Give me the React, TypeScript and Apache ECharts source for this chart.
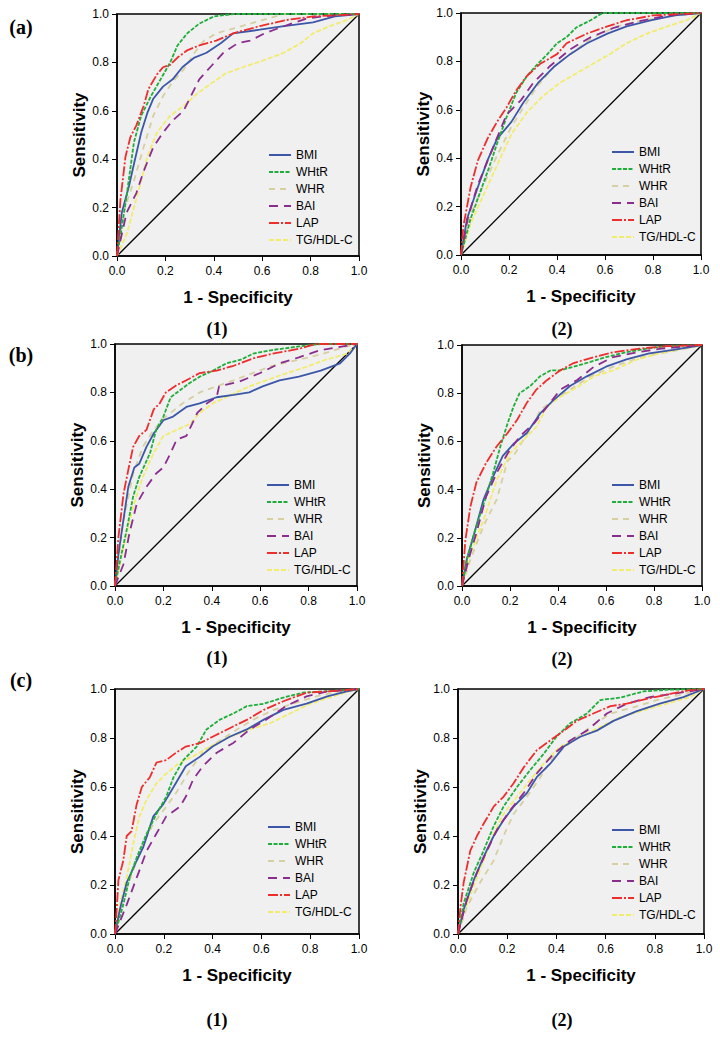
import React, { useEffect, useRef } from "react";
import * as echarts from "echarts";

// ---------- DATA ----------
const CATEGORIES = ["BMI", "WHtR", "WHR", "BAI", "LAP", "TG/HDL-C"];
const TICKS = [0, 0.2, 0.4, 0.6, 0.8, 1.0];
const PANEL_LETTERS = ["(a)", "(b)", "(c)"];
const PANEL_NUMBERS = ["1", "2"];
const X_NAME = "1 - Specificity";
const Y_NAME = "Sensitivity";
const DIAGONAL = [[0, 0], [1, 1]];

// panel (a)(1)
const a1_BMI = [[0,0],[0.02,0.18],[0.05,0.29],[0.07,0.38],[0.1,0.51],[0.125,0.59],[0.15,0.65],[0.19,0.70],[0.23,0.73],[0.27,0.78],[0.32,0.82],[0.37,0.84],[0.43,0.88],[0.48,0.92],[0.59,0.935],[0.69,0.95],[0.81,0.965],[0.9,0.99],[1,1]];
const a1_WHtR = [[0,0],[0.02,0.12],[0.04,0.25],[0.07,0.47],[0.1,0.58],[0.14,0.66],[0.18,0.73],[0.22,0.80],[0.25,0.87],[0.29,0.92],[0.34,0.96],[0.40,0.99],[0.48,1],[1,1]];
const a1_WHR = [[0,0],[0.03,0.19],[0.07,0.31],[0.11,0.45],[0.15,0.58],[0.19,0.66],[0.23,0.72],[0.275,0.77],[0.32,0.84],[0.36,0.89],[0.41,0.92],[0.48,0.94],[0.55,0.96],[0.62,0.98],[0.69,1],[1,1]];
const a1_BAI = [[0,0],[0.04,0.18],[0.08,0.26],[0.11,0.35],[0.15,0.45],[0.19,0.51],[0.23,0.56],[0.275,0.60],[0.31,0.67],[0.34,0.73],[0.385,0.78],[0.44,0.84],[0.50,0.88],[0.55,0.89],[0.61,0.92],[0.65,0.935],[0.72,0.96],[0.78,0.98],[0.85,0.99],[1,1]];
const a1_LAP = [[0,0],[0.014,0.23],[0.035,0.41],[0.055,0.49],[0.08,0.54],[0.11,0.62],[0.13,0.69],[0.165,0.75],[0.19,0.78],[0.22,0.79],[0.25,0.82],[0.29,0.85],[0.34,0.87],[0.41,0.89],[0.48,0.92],[0.59,0.95],[0.70,0.975],[0.81,0.99],[1,1]];
const a1_TG = [[0,0],[0.04,0.09],[0.07,0.20],[0.1,0.31],[0.125,0.41],[0.165,0.51],[0.22,0.58],[0.275,0.62],[0.33,0.67],[0.385,0.71],[0.45,0.755],[0.52,0.78],[0.61,0.81],[0.69,0.84],[0.76,0.88],[0.81,0.92],[0.88,0.95],[0.95,0.975],[1,1]];

// panel (a)(2)
const a2_BMI = [[0,0],[0.025,0.15],[0.07,0.28],[0.11,0.39],[0.15,0.48],[0.21,0.55],[0.26,0.63],[0.32,0.71],[0.39,0.78],[0.455,0.83],[0.525,0.875],[0.61,0.915],[0.69,0.945],[0.79,0.97],[0.89,0.99],[1,1]];
const a2_WHtR = [[0,0],[0.04,0.15],[0.08,0.26],[0.12,0.37],[0.15,0.46],[0.19,0.57],[0.23,0.67],[0.275,0.74],[0.32,0.79],[0.36,0.83],[0.40,0.875],[0.44,0.90],[0.48,0.94],[0.54,0.97],[0.59,1],[1,1]];
const a2_WHR = [[0,0],[0.04,0.17],[0.09,0.28],[0.15,0.41],[0.21,0.53],[0.26,0.61],[0.32,0.70],[0.39,0.78],[0.455,0.83],[0.55,0.90],[0.65,0.945],[0.76,0.97],[0.90,0.99],[1,1]];
const a2_BAI = [[0,0],[0.03,0.16],[0.07,0.29],[0.14,0.46],[0.19,0.58],[0.25,0.64],[0.30,0.71],[0.37,0.78],[0.455,0.85],[0.54,0.90],[0.64,0.94],[0.76,0.97],[0.86,0.99],[1,1]];
const a2_LAP = [[0,0],[0.01,0.12],[0.04,0.28],[0.07,0.39],[0.11,0.48],[0.15,0.55],[0.19,0.61],[0.23,0.68],[0.275,0.74],[0.33,0.79],[0.40,0.83],[0.44,0.875],[0.525,0.915],[0.61,0.945],[0.69,0.97],[0.80,0.99],[1,1]];
const a2_TG = [[0,0],[0.04,0.13],[0.09,0.24],[0.15,0.37],[0.21,0.50],[0.275,0.59],[0.34,0.655],[0.41,0.71],[0.48,0.75],[0.55,0.79],[0.62,0.83],[0.69,0.875],[0.775,0.915],[0.86,0.945],[0.94,0.97],[1,1]];

// panel (b)(1)
const b1_BMI = [[0,0],[0.014,0.13],[0.03,0.24],[0.055,0.41],[0.08,0.49],[0.10,0.505],[0.13,0.575],[0.16,0.63],[0.20,0.685],[0.24,0.70],[0.295,0.74],[0.35,0.755],[0.42,0.78],[0.49,0.79],[0.555,0.80],[0.61,0.825],[0.68,0.85],[0.76,0.865],[0.85,0.89],[0.93,0.92],[0.97,0.96],[1,1]];
const b1_WHtR = [[0,0],[0.02,0.10],[0.05,0.24],[0.075,0.37],[0.10,0.45],[0.145,0.55],[0.17,0.645],[0.20,0.70],[0.23,0.78],[0.27,0.81],[0.31,0.84],[0.35,0.865],[0.405,0.89],[0.46,0.92],[0.52,0.935],[0.57,0.96],[0.65,0.975],[0.76,0.99],[0.85,1],[1,1]];
const b1_WHR = [[0,0],[0.035,0.27],[0.075,0.465],[0.115,0.575],[0.16,0.645],[0.21,0.70],[0.28,0.755],[0.35,0.80],[0.42,0.825],[0.49,0.85],[0.57,0.88],[0.65,0.91],[0.76,0.935],[0.86,0.96],[0.94,0.985],[1,1]];
const b1_BAI = [[0,0],[0.035,0.09],[0.06,0.22],[0.09,0.34],[0.13,0.41],[0.17,0.465],[0.20,0.49],[0.23,0.55],[0.255,0.605],[0.295,0.62],[0.34,0.715],[0.38,0.755],[0.42,0.78],[0.43,0.825],[0.515,0.845],[0.60,0.88],[0.68,0.92],[0.76,0.945],[0.85,0.975],[1,1]];
const b1_LAP = [[0,0],[0.014,0.20],[0.035,0.38],[0.055,0.48],[0.075,0.575],[0.10,0.62],[0.13,0.645],[0.16,0.73],[0.185,0.755],[0.21,0.80],[0.255,0.83],[0.295,0.85],[0.35,0.88],[0.42,0.89],[0.49,0.91],[0.57,0.94],[0.65,0.96],[0.76,0.98],[0.83,1],[1,1]];
const b1_TG = [[0,0],[0.035,0.16],[0.075,0.33],[0.115,0.45],[0.16,0.55],[0.20,0.62],[0.255,0.645],[0.31,0.67],[0.35,0.715],[0.405,0.755],[0.49,0.795],[0.555,0.825],[0.625,0.85],[0.71,0.88],[0.79,0.905],[0.87,0.935],[0.96,0.96],[1,1]];

// panel (b)(2)
const b2_BMI = [[0,0],[0.02,0.11],[0.06,0.25],[0.09,0.36],[0.13,0.455],[0.17,0.54],[0.215,0.59],[0.27,0.635],[0.325,0.715],[0.38,0.77],[0.45,0.83],[0.52,0.87],[0.60,0.91],[0.685,0.94],[0.78,0.965],[0.88,0.98],[1,1]];
const b2_WHtR = [[0,0],[0.02,0.11],[0.06,0.25],[0.10,0.37],[0.13,0.47],[0.16,0.58],[0.19,0.675],[0.215,0.745],[0.24,0.80],[0.285,0.83],[0.325,0.87],[0.37,0.895],[0.41,0.895],[0.465,0.91],[0.535,0.93],[0.60,0.95],[0.685,0.97],[0.77,0.985],[0.85,0.995],[1,1]];
const b2_WHR = [[0,0],[0.035,0.11],[0.09,0.25],[0.145,0.36],[0.19,0.52],[0.215,0.54],[0.255,0.605],[0.30,0.675],[0.325,0.73],[0.38,0.77],[0.45,0.815],[0.535,0.87],[0.63,0.91],[0.73,0.945],[0.82,0.965],[0.91,0.98],[1,1]];
const b2_BAI = [[0,0],[0.03,0.12],[0.06,0.22],[0.10,0.37],[0.145,0.47],[0.19,0.55],[0.24,0.62],[0.30,0.675],[0.355,0.745],[0.41,0.815],[0.48,0.855],[0.55,0.91],[0.63,0.95],[0.73,0.97],[0.83,0.985],[1,1]];
const b2_LAP = [[0,0],[0.014,0.19],[0.035,0.33],[0.06,0.43],[0.10,0.51],[0.145,0.58],[0.19,0.635],[0.23,0.69],[0.27,0.76],[0.31,0.815],[0.355,0.855],[0.41,0.895],[0.465,0.925],[0.55,0.95],[0.63,0.97],[0.74,0.985],[0.85,0.995],[1,1]];
const b2_TG = [[0,0],[0.035,0.135],[0.09,0.275],[0.145,0.44],[0.20,0.55],[0.255,0.605],[0.31,0.66],[0.355,0.745],[0.41,0.785],[0.48,0.825],[0.55,0.87],[0.63,0.895],[0.73,0.94],[0.82,0.965],[0.92,0.985],[1,1]];

// panel (c)(1)
const c1_BMI = [[0,0],[0.02,0.10],[0.048,0.21],[0.089,0.30],[0.116,0.355],[0.157,0.48],[0.198,0.53],[0.24,0.60],[0.29,0.685],[0.35,0.725],[0.40,0.765],[0.47,0.805],[0.54,0.835],[0.61,0.875],[0.69,0.915],[0.785,0.94],[0.87,0.97],[0.95,0.99],[1,1]];
const c1_WHtR = [[0,0],[0.034,0.12],[0.06,0.23],[0.09,0.315],[0.13,0.41],[0.17,0.49],[0.21,0.56],[0.24,0.64],[0.28,0.71],[0.335,0.765],[0.375,0.835],[0.43,0.875],[0.485,0.90],[0.54,0.93],[0.61,0.94],[0.69,0.965],[0.77,0.985],[0.855,0.99],[1,1]];
const c1_WHR = [[0,0],[0.034,0.15],[0.075,0.26],[0.116,0.37],[0.157,0.45],[0.21,0.52],[0.25,0.575],[0.307,0.67],[0.36,0.74],[0.43,0.79],[0.50,0.835],[0.567,0.875],[0.65,0.915],[0.73,0.94],[0.826,0.97],[0.92,0.99],[1,1]];
const c1_BAI = [[0,0],[0.048,0.12],[0.089,0.23],[0.13,0.34],[0.17,0.41],[0.21,0.48],[0.266,0.52],[0.29,0.56],[0.32,0.63],[0.36,0.685],[0.417,0.74],[0.485,0.78],[0.553,0.835],[0.62,0.875],[0.70,0.93],[0.785,0.97],[0.87,0.99],[1,1]];
const c1_LAP = [[0,0],[0.007,0.10],[0.014,0.22],[0.034,0.30],[0.048,0.40],[0.068,0.42],[0.089,0.53],[0.11,0.60],[0.143,0.64],[0.17,0.70],[0.21,0.71],[0.25,0.74],[0.29,0.765],[0.35,0.78],[0.40,0.805],[0.47,0.84],[0.54,0.874],[0.61,0.915],[0.69,0.95],[0.785,0.985],[0.87,0.99],[1,1]];
const c1_TG = [[0,0],[0.02,0.12],[0.048,0.23],[0.075,0.37],[0.10,0.48],[0.13,0.55],[0.17,0.615],[0.21,0.655],[0.266,0.70],[0.32,0.725],[0.39,0.765],[0.47,0.805],[0.553,0.835],[0.635,0.86],[0.717,0.90],[0.80,0.94],[0.895,0.97],[0.96,0.99],[1,1]];

// panel (c)(2)
const c2_BMI = [[0,0],[0.023,0.10],[0.064,0.22],[0.104,0.315],[0.145,0.40],[0.185,0.465],[0.226,0.52],[0.28,0.575],[0.32,0.64],[0.375,0.695],[0.43,0.765],[0.497,0.805],[0.564,0.83],[0.632,0.87],[0.727,0.91],[0.82,0.94],[0.916,0.967],[1,1]];
const c2_WHtR = [[0,0],[0.023,0.125],[0.064,0.25],[0.104,0.34],[0.145,0.44],[0.185,0.52],[0.24,0.60],[0.294,0.67],[0.348,0.735],[0.40,0.805],[0.456,0.86],[0.524,0.90],[0.578,0.955],[0.66,0.965],[0.754,0.99],[0.848,0.997],[1,1]];
const c2_WHR = [[0,0],[0.036,0.11],[0.09,0.21],[0.145,0.30],[0.185,0.40],[0.226,0.49],[0.28,0.56],[0.335,0.64],[0.388,0.725],[0.456,0.78],[0.537,0.845],[0.62,0.90],[0.713,0.925],[0.808,0.955],[0.90,0.975],[1,1]];
const c2_BAI = [[0,0],[0.036,0.14],[0.077,0.25],[0.118,0.34],[0.158,0.425],[0.212,0.505],[0.267,0.575],[0.32,0.655],[0.388,0.735],[0.456,0.79],[0.524,0.83],[0.605,0.90],[0.686,0.94],[0.78,0.967],[0.875,0.98],[1,1]];
const c2_LAP = [[0,0],[0.01,0.11],[0.023,0.21],[0.05,0.34],[0.077,0.40],[0.104,0.45],[0.145,0.52],[0.185,0.56],[0.226,0.615],[0.267,0.68],[0.32,0.75],[0.375,0.79],[0.43,0.83],[0.483,0.87],[0.55,0.90],[0.62,0.93],[0.686,0.94],[0.767,0.96],[0.862,0.98],[0.943,0.995],[1,1]];
const c2_TG = [[0,0],[0.023,0.085],[0.064,0.195],[0.104,0.30],[0.145,0.41],[0.185,0.49],[0.24,0.56],[0.294,0.63],[0.36,0.71],[0.415,0.765],[0.497,0.805],[0.578,0.845],[0.66,0.885],[0.754,0.913],[0.848,0.94],[0.943,0.967],[1,1]];

const PANEL_DATA = [
  [a1_BMI, a1_WHtR, a1_WHR, a1_BAI, a1_LAP, a1_TG],
  [a2_BMI, a2_WHtR, a2_WHR, a2_BAI, a2_LAP, a2_TG],
  [b1_BMI, b1_WHtR, b1_WHR, b1_BAI, b1_LAP, b1_TG],
  [b2_BMI, b2_WHtR, b2_WHR, b2_BAI, b2_LAP, b2_TG],
  [c1_BMI, c1_WHtR, c1_WHR, c1_BAI, c1_LAP, c1_TG],
  [c2_BMI, c2_WHtR, c2_WHR, c2_BAI, c2_LAP, c2_TG],
];

// ---------- LAYOUT / STYLE ----------
const W = 720;
const H = 1037;
const GRIDS = [
  { left: 117, top: 14, width: 242, height: 242 },
  { left: 461, top: 13, width: 240, height: 242 },
  { left: 115, top: 344, width: 242, height: 242 },
  { left: 462, top: 345, width: 240, height: 241 },
  { left: 115, top: 689, width: 244, height: 245 },
  { left: 458, top: 689, width: 246, height: 245 },
];
const LEGEND_POS = [
  { left: 268, top: 149 },
  { left: 611, top: 146 },
  { left: 266, top: 479 },
  { left: 611, top: 479 },
  { left: 267, top: 821 },
  { left: 611, top: 824 },
];
const LETTER_POS = [
  { x: 21, y: 27 },
  { x: 21, y: 355 },
  { x: 21, y: 680 },
];
const NUMBER_POS = [
  { x: 217, y: 329 }, { x: 562, y: 329 },
  { x: 217, y: 658 }, { x: 562, y: 659 },
  { x: 217, y: 1020 }, { x: 562, y: 1020 },
];
const COLORS = ["#3c57a8", "#1fae3a", "#d6cfa0", "#8b2c8f", "#ee2d2d", "#f2ec6c"];
const DASHES: any[] = ["solid", [4, 1.5], [6, 5], [9, 6], [10, 2, 2, 2], [5, 2]];
const SANS = "'Liberation Sans', Arial, Helvetica, sans-serif";
const SERIF = "'Liberation Serif', 'Times New Roman', serif";

export default function App() {
  const ref = useRef<HTMLDivElement>(null);

  useEffect(() => {
    if (!ref.current) return;
    const chart = echarts.init(ref.current, undefined, { renderer: "svg", width: W, height: H });

    const axisCommon = (i: number) => ({
      gridIndex: i,
      type: "value",
      min: 0,
      max: 1,
      interval: 0.2,
      splitLine: { show: false },
      axisLine: { show: true, lineStyle: { color: "#000", width: 1.5 } },
      axisTick: { show: true, length: 5, inside: false, lineStyle: { color: "#000", width: 1 } },
      nameTextStyle: { color: "#000", fontFamily: SANS, fontSize: 17, fontWeight: "bold" },
    });

    const xAxis = GRIDS.map((_, i) => ({
      ...axisCommon(i),
      name: X_NAME,
      nameLocation: "middle",
      nameGap: 33,
      axisLabel: {
        color: "#000",
        fontFamily: SANS,
        fontSize: 12,
        margin: 9,
        formatter: (v: number) => (TICKS.includes(Math.round(v * 10) / 10) ? v.toFixed(1) : ""),
      },
    }));
    const yAxis = GRIDS.map((_, i) => ({
      ...axisCommon(i),
      name: Y_NAME,
      nameLocation: "middle",
      nameGap: 28,
      axisLabel: {
        color: "#000",
        fontFamily: SANS,
        fontSize: 12,
        margin: 8,
        formatter: (v: number) => v.toFixed(1),
      },
    }));

    const series: any[] = [];
    PANEL_DATA.forEach((curves, i) => {
      series.push({
        type: "line",
        name: "diagonal",
        xAxisIndex: i,
        yAxisIndex: i,
        data: DIAGONAL,
        symbol: "none",
        silent: true,
        lineStyle: { color: "#000", width: 1.3 },
        z: 2,
      });
      curves.forEach((pts, j) => {
        series.push({
          type: "line",
          name: CATEGORIES[j],
          xAxisIndex: i,
          yAxisIndex: i,
          data: pts,
          symbol: "none",
          silent: true,
          lineStyle: { color: COLORS[j], width: 1.8, type: DASHES[j] },
          itemStyle: { color: COLORS[j] },
          z: 3 + (j === 2 || j === 5 ? 0 : 1),
        });
      });
    });

    const legend = LEGEND_POS.map((p) => ({
      data: CATEGORIES,
      orient: "vertical",
      left: p.left,
      top: p.top,
      itemWidth: 22,
      itemHeight: 12,
      itemGap: 5,
      padding: 0,
      selectedMode: false,
      itemStyle: { opacity: 0 },
      textStyle: { color: "#000", fontFamily: SANS, fontSize: 12 },
    }));

    const graphic: any[] = [];
    PANEL_LETTERS.forEach((t, i) => {
      graphic.push({
        type: "text",
        x: LETTER_POS[i].x,
        y: LETTER_POS[i].y,
        style: {
          text: t,
          fill: "#000",
          font: `bold 20px ${SERIF}`,
          textAlign: "center",
          textVerticalAlign: "middle",
        },
      });
    });
    NUMBER_POS.forEach((p, i) => {
      const n = PANEL_NUMBERS[i % 2];
      graphic.push({
        type: "text",
        x: p.x,
        y: p.y,
        style: {
          text: `{p|(}{n|${n}}{p|)}`,
          fill: "#000",
          textAlign: "center",
          textVerticalAlign: "middle",
          rich: {
            p: { fontFamily: SERIF, fontSize: 18, fontWeight: "bold", fill: "#000" },
            n: { fontFamily: SERIF, fontSize: 18, fontWeight: "bold", fill: "#000" },
          },
        },
      });
    });

    chart.setOption({
      animation: false,
      backgroundColor: "#fff",
      grid: GRIDS.map((g) => ({
        ...g,
        show: true,
        backgroundColor: "#f0f0f0",
        borderColor: "#000",
        borderWidth: 1.5,
        containLabel: false,
      })),
      xAxis,
      yAxis,
      legend,
      series,
      graphic,
    });

    return () => chart.dispose();
  }, []);

  return (
    <div
      ref={ref}
      style={{ position: "absolute", left: 0, top: 0, width: W, height: H, background: "#fff" }}
    />
  );
}
